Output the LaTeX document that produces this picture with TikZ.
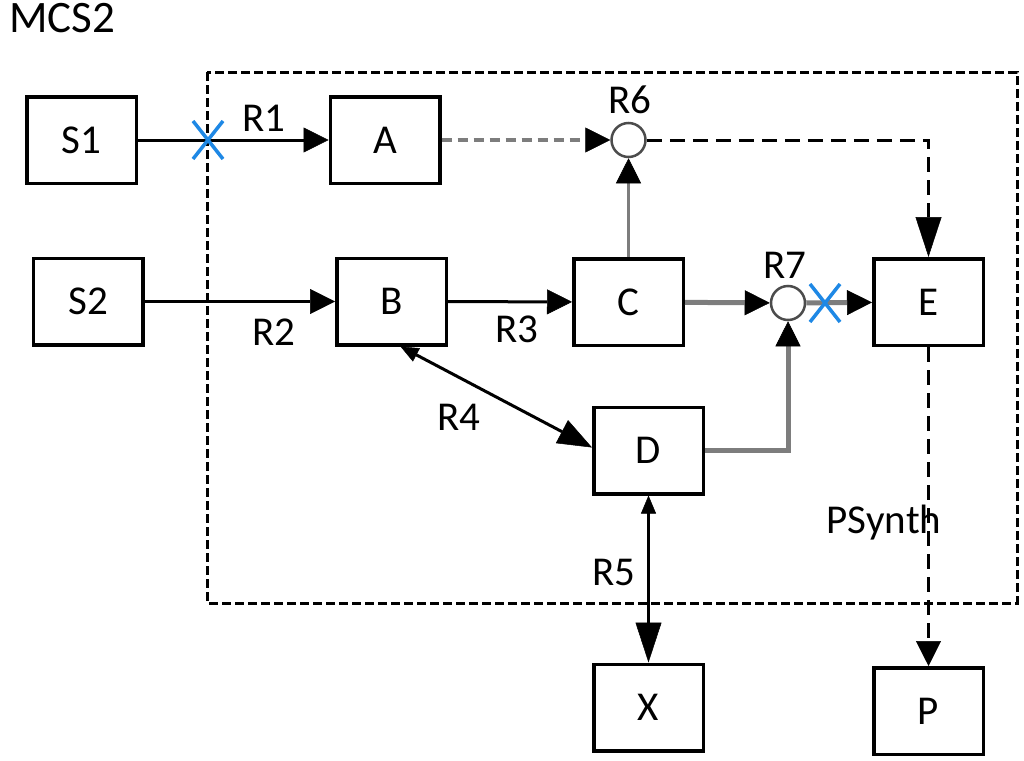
\documentclass[tikz,border=0pt]{standalone}
\usepackage{fontspec}
\setmainfont{Carlito}
\usetikzlibrary{arrows.meta}
\definecolor{lgray}{RGB}{125,125,125}
\definecolor{xblue}{RGB}{30,136,229}
\tikzset{
  bigtip/.tip={Triangle[length=25pt,width=25pt,color=black,line width=0.5pt]},
  longtip/.tip={Triangle[length=40pt,width=26pt,color=black,line width=0.5pt]},
  diagtip/.tip={Triangle[length=34pt,width=26pt,color=black,line width=0.5pt]},
  smalltip/.tip={Triangle[length=18pt,width=15pt,color=black,line width=0.5pt]},
}
\begin{document}
\begin{tikzpicture}[x=1pt,y=-1pt,
  box/.style={draw=black,line width=3.5pt,fill=white,minimum width=109.5pt,minimum height=86.5pt,inner sep=0pt,font=\fontsize{41}{48}\selectfont},
  lbl/.style={anchor=base,inner sep=0pt,font=\fontsize{41}{48}\selectfont},
  junc/.style={circle,draw=black!70,line width=2.5pt,fill=white,minimum size=34pt,inner sep=0pt},
  conn/.style={draw=black,line width=3pt},
  gconn/.style={draw=lgray,line width=3.5pt},
  gthick/.style={draw=lgray,line width=5pt},
  gdash/.style={draw=lgray,line width=4pt,dash pattern=on 10pt off 6pt},
  bdash/.style={draw=black,line width=3pt,dash pattern=on 15pt off 8pt},
  boundary/.style={draw=black,line width=3pt,dash pattern=on 9pt off 4pt},
  bluex/.style={draw=xblue,line width=3.5pt},
]
\useasboundingbox (0,0) rectangle (1024,760);

% PSynth boundary
\draw[boundary] (207,72) rectangle (1017,603);

% boxes
\node[box] (S1) at (81.5,140) {S1};
\node[box] (A)  at (385,140) {A};
\node[box] (S2) at (88,301.5) {S2};
\node[box] (B)  at (391.5,301.5) {B};
\node[box] (C)  at (628.5,302) {C};
\node[box] (E)  at (928.5,302) {E};
\node[box] (D)  at (648.5,450.5) {D};
\node[box] (X)  at (648.5,707.5) {X};
\node[box] (P)  at (928.5,711) {P};

% reaction junctions
\node[junc] (R6c) at (628.5,140) {};
\node[junc] (R7c) at (788,303) {};

% connectors
\draw[conn,-{bigtip}] (S1) -- (A);
\draw[conn,-{bigtip}] (S2) -- (B);
\draw[conn,-{bigtip}] (B) -- (C);
\draw[gdash,-{bigtip}] (A) -- (R6c);
\draw[gconn,-{bigtip}] (C.north) -- (R6c.south);
\draw[bdash,-{longtip}] (R6c.east) -| (E.north);
\draw[gthick,-{bigtip}] (C) -- (R7c);
\draw[gthick,-{bigtip}] (R7c) -- (E);
\draw[gthick,-{bigtip}] (D.east) -| (R7c.south);
\draw[conn,{smalltip}-{diagtip}] ([xshift=9pt]B.south) -- ([yshift=3pt]D.west);
\draw[conn,{smalltip}-{longtip}] (D.south) -- (X.north);
\draw[bdash,-{bigtip}] (E.south) -- (P.north);

% knockout marks
\coordinate (k1) at (208,140);
\coordinate (k2) at (825,303);
\draw[bluex] ([shift={(-15,-19)}]k1) -- ([shift={(15,19)}]k1)
             ([shift={(-15,19)}]k1) -- ([shift={(15,-19)}]k1);
\draw[bluex] ([shift={(-15,-19)}]k2) -- ([shift={(15,19)}]k2)
             ([shift={(-15,19)}]k2) -- ([shift={(15,-19)}]k2);

% labels
\node[lbl,font=\fontsize{45}{52}\selectfont] (mcs) at (62,33) {MCS2};
\node[lbl] (l1) at (264,131) {R1};
\node[lbl] (l2) at (274,345) {R2};
\node[lbl] (l3) at (517,342) {R3};
\node[lbl] (l4) at (459,430) {R4};
\node[lbl] (l5) at (614,585) {R5};
\node[lbl] (l6) at (630,113) {R6};
\node[lbl] (l7) at (785,278) {R7};
\node[lbl] (ps) at (884,533) {PSynth};
\end{tikzpicture}
\end{document}
